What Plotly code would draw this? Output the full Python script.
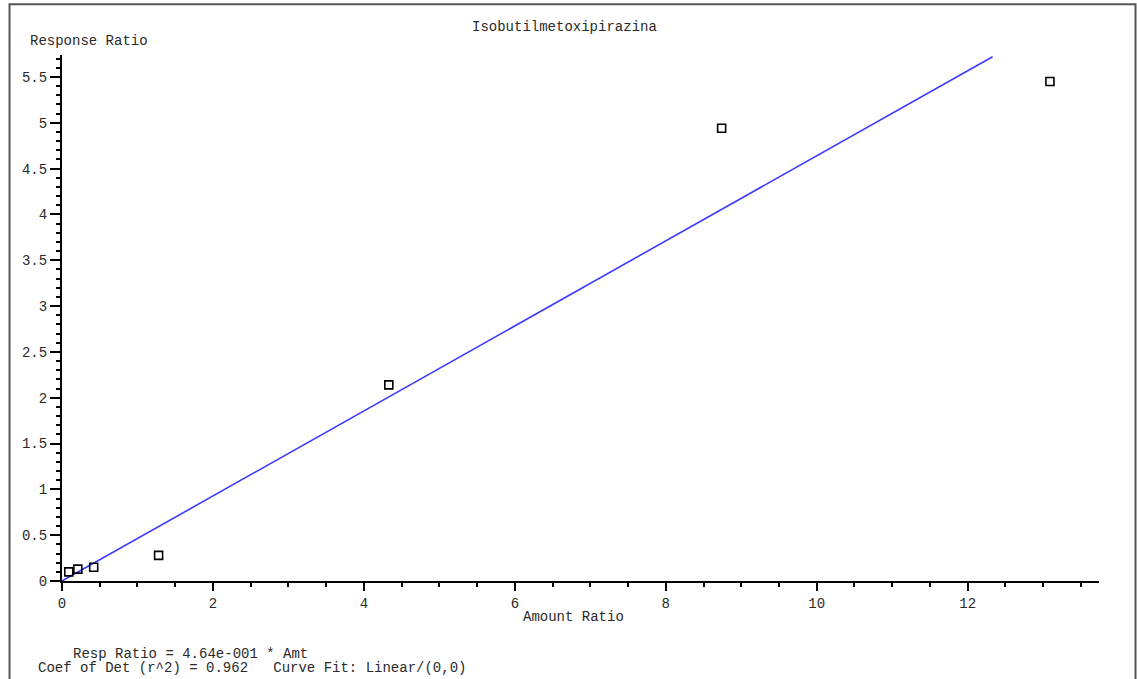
import plotly.graph_objects as go

# Calibration points (Amount Ratio, Response Ratio)
amount_ratio = [0.09, 0.21, 0.42, 1.28, 4.33, 8.74, 13.09]
response_ratio = [0.10, 0.13, 0.15, 0.28, 2.14, 4.94, 5.45]

# Linear fit through origin
slope = 0.464
fit_x = [0.0, 12.33]
fit_y = [slope * v for v in fit_x]

title_text = "Isobutilmetoxipirazina"
y_label = "Response Ratio"
x_label = "Amount Ratio"
eq_line1 = "Resp Ratio = 4.64e-001 * Amt"
eq_line2 = "Coef of Det (r^2) = 0.962   Curve Fit: Linear/(0,0)"

FONT = "Courier New, Liberation Mono, monospace"
TXT = "#2a2a2a"

fig = go.Figure()
fig.add_trace(go.Scatter(x=fit_x, y=fit_y, mode="lines",
                         line=dict(color="#3b3bff", width=1.6),
                         hoverinfo="skip", showlegend=False))
fig.add_trace(go.Scatter(x=amount_ratio, y=response_ratio, mode="markers",
                         marker=dict(symbol="square-open", size=8, color="black",
                                     line=dict(width=1.6, color="black")),
                         showlegend=False))

fig.update_layout(
    width=1137, height=679,
    margin=dict(l=62, r=38, t=55, b=98, pad=0),
    paper_bgcolor="white", plot_bgcolor="white",
    font=dict(family=FONT, size=14, color=TXT),
    xaxis=dict(range=[0, 13.74], showgrid=False, zeroline=False,
               showline=True, linecolor="black", linewidth=2,
               ticks="outside", ticklen=8, tickwidth=1.5, tickcolor="black",
               dtick=2, tick0=0,
               minor=dict(dtick=0.5, ticks="outside", ticklen=4, tickwidth=1.5, tickcolor="black"),
               tickfont=dict(family=FONT, size=14, color=TXT)),
    yaxis=dict(range=[0, 5.74], showgrid=False, zeroline=False,
               showline=True, linecolor="black", linewidth=2,
               ticks="outside", ticklen=10, tickwidth=1.5, tickcolor="black",
               dtick=0.5, tick0=0, ticklabelstandoff=0,
               minor=dict(dtick=0.1, ticks="outside", ticklen=4, tickwidth=1.5, tickcolor="black"),
               tickfont=dict(family=FONT, size=14, color=TXT)),
)

def ann(text, x, y, xanchor="center"):
    fig.add_annotation(text=text, x=x, y=y, xref="paper", yref="paper",
                       xanchor=xanchor, yanchor="middle", showarrow=False,
                       font=dict(family=FONT, size=14, color=TXT))

ann(title_text, 0.485, 1.053)
ann(y_label, -0.0328, 1.027, "left")
ann(x_label, 0.493, -0.068)
ann(eq_line1, 0.0087, -0.139, "left")
ann(eq_line2, -0.025, -0.165, "left")

# page frame
fig.add_shape(type="rect", xref="paper", yref="paper",
              x0=-0.0506, x1=1.0352, y0=-0.4, y1=1.0964,
              line=dict(color="#555555", width=2), fillcolor="rgba(0,0,0,0)", layer="below")

fig.write_html("out.html", config={"displayModeBar": False},
               post_script="document.body.style.margin='0px';document.body.style.overflow='hidden';")
